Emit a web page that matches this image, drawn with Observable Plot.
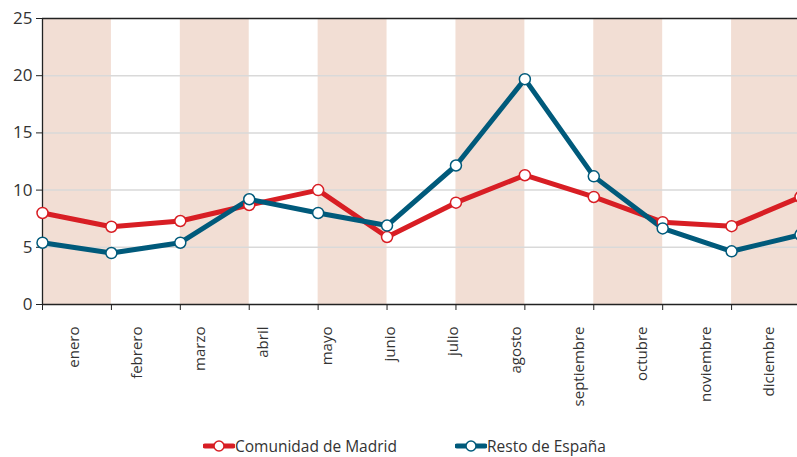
<!DOCTYPE html>
<html><head><meta charset="utf-8">
<script src="https://cdn.jsdelivr.net/npm/d3@7"></script>
<script src="https://cdn.jsdelivr.net/npm/@observablehq/plot@0.6"></script>
<style>
html,body{margin:0;padding:0;background:#fff;overflow:hidden;width:797px;height:457px;}
#chart{width:797px;overflow:hidden;}
#chart svg{display:block;max-width:none !important;}
.legend{position:absolute;top:436px;left:0;width:797px;height:20px;font-family:"Open Sans",sans-serif;font-size:15.5px;line-height:18px;color:#333;}
.item{position:absolute;top:0;height:20px;display:flex;align-items:center;}
.item svg{display:block;}
</style></head>
<body>
<div id="chart"></div>
<div class="legend" id="legend"></div>
<script>
const months = ["enero","febrero","marzo","abril","mayo","junio","julio","agosto","septiembre","octubre","noviembre","diciembre"];
const madrid = [8.0, 6.8, 7.3, 8.7, 10.0, 5.9, 8.9, 11.3, 9.4, 7.2, 6.85, 9.4];
const resto  = [5.4, 4.5, 5.4, 9.2, 8.0, 6.9, 12.15, 19.7, 11.2, 6.65, 4.65, 6.1];
const seriesNames = ["Comunidad de Madrid", "Resto de España"];
const colors = ["#d81e24", "#005a7b"];
const yTicks = [0, 5, 10, 15, 20, 25];

const rows = [];
months.forEach((m, i) => {
  rows.push({serie: seriesNames[0], i, v: madrid[i]});
  rows.push({serie: seriesNames[1], i, v: resto[i]});
});
const bands = months.map((m, i) => ({i})).filter(d => d.i % 2 === 0);
const n = months.length;

const plot = Plot.plot({
  width: 806, height: 425,
  marginLeft: 42, marginRight: 6, marginTop: 18, marginBottom: 121,
  style: {fontFamily: "'Open Sans', sans-serif", color: "#333", background: "#fff", maxWidth: "none"},
  x: {type: "linear", domain: [0, n - 1]},
  y: {domain: [0, 25]},
  color: {domain: seriesNames, range: colors},
  marks: [
    Plot.rect(bands, {x1: d => d.i, x2: d => d.i + 1, y1: 0, y2: 25, fill: "#f2ded4"}),
    Plot.ruleY([5, 10, 15, 20], {stroke: "#d9d9d9", strokeWidth: 1.5}),
    Plot.axisY({ticks: yTicks, tickSize: 6, fontSize: 17, tickPadding: 4, stroke: "#222", label: null}),
    Plot.axisX({ticks: d3.range(n), tickSize: 6, tickFormat: () => "", stroke: "#222", label: null}),
    Plot.text(months, {x: (d, i) => (i + 0.5) * (n - 1) / n, y: 0, text: d => d, rotate: -90,
      textAnchor: "end", lineAnchor: "middle", dy: 22, fontSize: 15, fill: "#333"}),
    Plot.ruleY([0, 25], {stroke: "#222", strokeWidth: 1.3}),
    Plot.ruleX([0], {y1: 0, y2: 25, stroke: "#222", strokeWidth: 1.3}),
    Plot.line(rows, {x: "i", y: "v", z: "serie", stroke: "serie", strokeWidth: 5, strokeLinejoin: "round"}),
    Plot.dot(rows, {x: "i", y: "v", stroke: "serie", fill: "white", r: 5.5, strokeWidth: 1.5})
  ]
});
document.getElementById("chart").appendChild(plot);

const legend = document.getElementById("legend");
const lx = [203, 455];
seriesNames.forEach((s, k) => {
  const it = document.createElement("div");
  it.className = "item";
  it.style.left = lx[k] + "px";
  it.innerHTML = `<svg width="32" height="20"><line x1="2" x2="30" y1="10" y2="10" stroke="${colors[k]}" stroke-width="5" stroke-linecap="round"/><circle cx="16" cy="10" r="5" fill="white" stroke="${colors[k]}" stroke-width="1.5"/></svg><span>${s}</span>`;
  legend.appendChild(it);
});
</script>
</body></html>
